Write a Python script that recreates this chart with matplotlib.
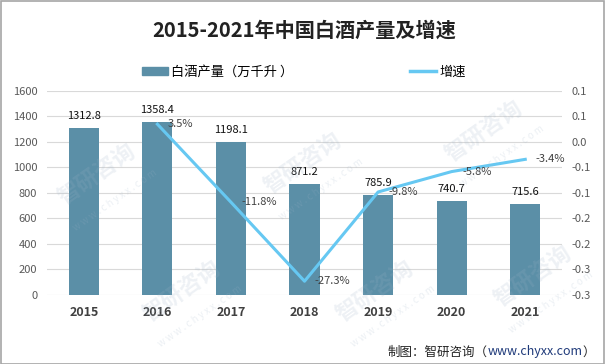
import math
import matplotlib
matplotlib.use("Agg")
import matplotlib.pyplot as plt
import numpy as np
from matplotlib.patches import Patch, Rectangle
from matplotlib.lines import Line2D
from matplotlib.ticker import FuncFormatter

plt.rcParams['font.family'] = ['Noto Sans CJK SC', 'DejaVu Sans']

years = ['2015', '2016', '2017', '2018', '2019', '2020', '2021']
output = [1312.8, 1358.4, 1198.1, 871.2, 785.9, 740.7, 715.6]  # 万千升
growth_years = years[1:]
growth = [0.035, -0.118, -0.273, -0.098, -0.058, -0.034]
growth_labels = ['3.5%', '-11.8%', '-27.3%', '-9.8%', '-5.8%', '-3.4%']

bar_color = '#5b8fa7'
line_color = '#66c8f2'
grid_color = '#d9d9d9'
tick_color = '#595959'

fig = plt.figure(figsize=(6.05, 3.64), dpi=100)
ax = fig.add_axes([0.0777, 0.1896, 0.8513, 0.5604])
ax2 = ax.twinx()

x = np.arange(len(years))
ax.bar(x, output, width=0.41, color=bar_color, zorder=2)
for xi, v in zip(x, output):
    ax.annotate(f'{v:.1f}', (xi, v), xytext=(0, 5), textcoords='offset points',
                ha='center', va='bottom', fontsize=8, color='#111111')

ax.set_xlim(-0.5, len(years) - 0.5)
ax.set_ylim(0, 1600)
ax.set_yticks(np.arange(0, 1601, 200))
ax.grid(axis='y', color=grid_color, linewidth=0.8, zorder=0)
ax.set_axisbelow(True)
ax.set_xticks(x)
ax.set_xticklabels(years, fontsize=9, fontweight='bold', color='#404040')
ax.tick_params(axis='x', length=0, pad=8)
ax.tick_params(axis='y', length=0, pad=7, labelsize=8, labelcolor=tick_color)

gx = [years.index(y) for y in growth_years]
ax2.plot(gx, growth, color=line_color, linewidth=2.2, zorder=3)
for xi, v, lab in zip(gx, growth, growth_labels):
    ax2.annotate(lab, (xi, v), xytext=(7.5, 0), textcoords='offset points',
                 ha='left', va='center', fontsize=8, color='#404040')
ax2.set_ylim(-0.3, 0.1)
ax2.set_yticks(np.linspace(-0.3, 0.1, 9))


def fmt(v, pos):
    r = math.floor(abs(v) * 10 + 0.5 + 1e-9) / 10
    if v < -1e-9 and r > 0:
        return f'-{r:.1f}'
    return f'{r:.1f}'


ax2.yaxis.set_major_formatter(FuncFormatter(fmt))
ax2.tick_params(axis='y', length=0, pad=7, labelsize=8, labelcolor=tick_color)

for a in (ax, ax2):
    for s in a.spines.values():
        s.set_visible(False)

fig.text(0.502, 0.918, '2015-2021年中国白酒产量及增速', ha='center', va='center',
         fontsize=14.5, fontweight='bold', color='#222222')

handles = [Patch(color=bar_color), Line2D([], [], color=line_color, linewidth=2.5)]
fig.legend(handles, ['白酒产量（万千升 ）', '增速'], loc='center',
           bbox_to_anchor=(0.502, 0.802), ncol=2, frameon=False, fontsize=9.5,
           handlelength=2.0, handleheight=0.5, handletextpad=0.25, columnspacing=8.8)

# watermarks
for wx, wy in [(0.16, 0.52), (0.50, 0.55), (0.80, 0.64), (0.30, 0.20), (0.62, 0.20), (0.88, 0.24)]:
    fig.text(wx, wy, '智研咨询', rotation=35, fontsize=16, fontweight='bold',
             color='#9fb3c8', alpha=0.18, ha='center', va='center')
    fig.text(wx + 0.03, wy - 0.07, 'w w w . c h y x x . c o m', rotation=35, fontsize=7,
             color='#9fb3c8', alpha=0.2, ha='center', va='center')

# source note, with the site name in blue
src = fig.text(0.641, 0.033, '制图：智研咨询（', ha='left', va='center', fontsize=9, color='#222222')
fig.canvas.draw()
w_px = fig.bbox.width
src2 = fig.text(src.get_window_extent().x1 / w_px, 0.033, 'www.chyxx.com', ha='left',
                va='center', fontsize=9, color='#1f3a7a')
fig.canvas.draw()
fig.text(src2.get_window_extent().x1 / w_px, 0.033, '）', ha='left', va='center',
         fontsize=9, color='#222222')

fig.patches.append(Rectangle((0.001, 0.001), 0.997, 0.996, transform=fig.transFigure,
                             fill=False, edgecolor='#a6a6a6', linewidth=1.2))

fig.savefig('out.png', dpi=100)
